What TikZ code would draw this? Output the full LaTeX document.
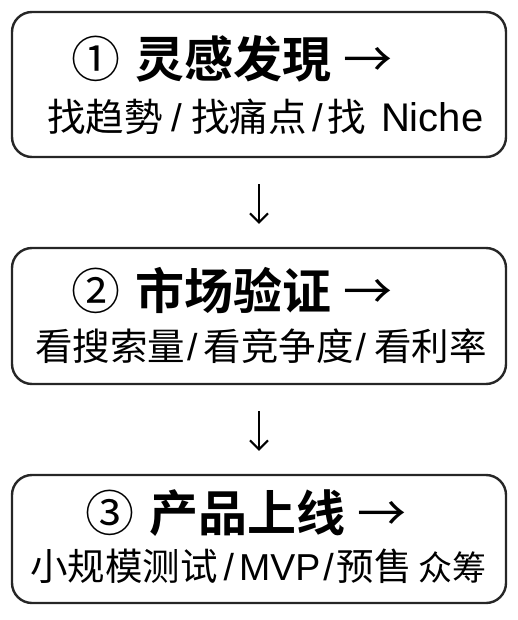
\documentclass[tikz,border=0pt]{standalone}
\usepackage{fontspec}
\setmainfont{Noto Sans CJK SC}[BoldFont={Noto Sans CJK SC Bold}]
\newfontfamily\lat{Liberation Sans}
\usetikzlibrary{arrows.meta}
\newcommand{\ttlnum}[1]{{\mdseries #1}\hspace*{15pt}}
\newcommand{\ttlarr}{\hspace*{12pt}{\mdseries →}}
\newcommand{\slsep}[2]{\hspace*{#1pt}{\lat /}\hspace*{#2pt}}
\tikzset{
  box/.style={draw=black!85, line width=2.4pt, rounded corners=20pt, minimum width=494pt, inner sep=0pt},
  ttl/.style={anchor=west, inner sep=0pt, font=\fontsize{49}{49}\selectfont\bfseries},
  sub/.style={anchor=west, inner sep=0pt, font=\fontsize{37.5}{38}\selectfont},
  conn/.style={line width=2pt, -{Straight Barb[length=9pt,width=18pt,line width=2pt]}, shorten <=26pt, shorten >=23pt}
}
\begin{document}
\begin{tikzpicture}[x=1pt,y=-1pt]
\useasboundingbox (0,0) rectangle (517,620);
\node[box, minimum height=145pt] (b1) at (259,84.5) {};
\node[box, minimum height=136pt] (b2) at (259,316) {};
\node[box, minimum height=128pt] (b3) at (259,539) {};
\node[ttl] (t1) at (71,59) {\ttlnum{①}灵感发現\ttlarr};
\node[sub, font=\fontsize{38.5}{39}\selectfont] (s1) at (47,117) {找趋勢\slsep{9}{9}找痛点\slsep{6}{4}找\hspace*{15pt}{\lat\fontsize{40}{40}\selectfont Niche}};
\node[ttl] (t2) at (71,291) {\ttlnum{②}市场验证\ttlarr};
\node[sub] (s2) at (35,346) {看搜索量\slsep{2}{6}看竞争度\slsep{2}{8}看利率};
\node[ttl] (t3) at (85,513) {\ttlnum{③}产品上线\ttlarr};
\node[sub] (s3) at (30,566) {小规模测试\slsep{6}{5}{\lat MVP}\slsep{3}{3}预售\hspace*{7pt}{\fontsize{34}{34}\selectfont 众筹}};
\draw[conn] (b1.south) -- (b2.north);
\draw[conn] (b2.south) -- (b3.north);
\end{tikzpicture}
\end{document}
